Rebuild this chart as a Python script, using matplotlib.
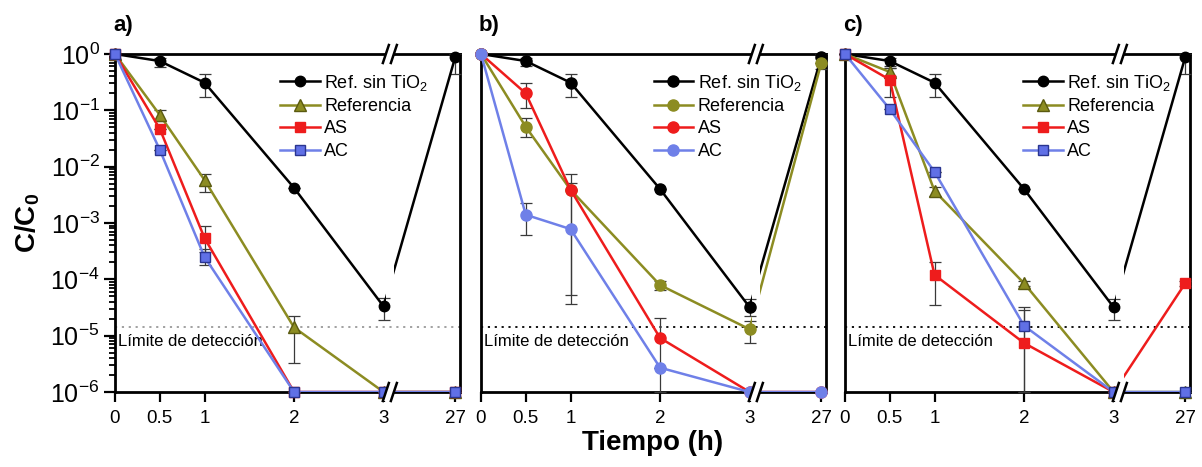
import numpy as np
import matplotlib
matplotlib.use("Agg")
import matplotlib.pyplot as plt
from matplotlib.ticker import LogLocator, NullFormatter, LogFormatterSciNotation, NullLocator
from matplotlib.patches import Polygon
from matplotlib.path import Path
import matplotlib.transforms as mtransforms

plt.rcParams['font.family'] = ['Liberation Sans', 'DejaVu Sans']
plt.rcParams['mathtext.fontset'] = 'custom'
plt.rcParams['mathtext.rm'] = 'Liberation Sans'
plt.rcParams['mathtext.it'] = 'Liberation Sans:italic'
plt.rcParams['mathtext.bf'] = 'Liberation Sans:bold'

# ---------------- data ----------------
t = [0, 0.5, 1, 2, 3, 27]
tick_labels = ["0", "0.5", "1", "2", "3", "27"]
series_names = ["Ref. sin TiO$_2$", "Referencia", "AS", "AC"]
detection_limit = 1.4e-5
panel_tags = ["a)", "b)", "c)"]

nan = np.nan
# panel a
a_ref_sin = [1, 0.75, 0.31, 4.2e-3, 3.3e-5, 0.88]
a_ref = [1, 0.083, 5.8e-3, 1.4e-5, 1e-6, 1e-6]
a_as = [1, 0.047, 5.4e-4, 1e-6, 1e-6, 1e-6]
a_ac = [1, 0.020, 2.5e-4, 1e-6, 1e-6, 1e-6]
a_ref_sin_lo = [nan, 0.59, 0.17, nan, 1.9e-5, 0.44]
a_ref_sin_hi = [nan, 0.85, 0.44, nan, 4.7e-5, 1.0]
a_ref_lo = [nan, 0.065, 3.5e-3, 3.3e-6, nan, nan]
a_ref_hi = [nan, 0.10, 7.4e-3, 2.2e-5, nan, nan]
a_as_lo = [nan, nan, 3.0e-4, nan, nan, nan]
a_as_hi = [nan, nan, 8.8e-4, nan, nan, nan]
a_ac_lo = [nan, nan, 1.8e-4, nan, nan, nan]
a_ac_hi = [nan, nan, 3.4e-4, nan, nan, nan]

# panel b
b_ref_sin = [1, 0.75, 0.31, 4.0e-3, 3.2e-5, 0.88]
b_ref = [1, 0.051, 3.9e-3, 7.9e-5, 1.3e-5, 0.69]
b_as = [1, 0.20, 3.9e-3, 9.1e-6, 1e-6, 1e-6]
b_ac = [1, 1.4e-3, 7.8e-4, 2.7e-6, 1e-6, 1e-6]
b_ref_sin_lo = [nan, 0.62, 0.17, nan, 2.2e-5, 0.55]
b_ref_sin_hi = [nan, 0.85, 0.44, nan, 4.5e-5, 1.0]
b_ref_lo = [nan, 0.034, nan, 6.5e-5, 7.5e-6, nan]
b_ref_hi = [nan, 0.073, nan, 9.5e-5, 1.8e-5, nan]
b_as_lo = [nan, 0.11, 5.3e-5, 1e-6, nan, nan]
b_as_hi = [nan, 0.30, 7.4e-3, 2.1e-5, nan, nan]
b_ac_lo = [nan, 6.0e-4, 3.7e-5, nan, nan, nan]
b_ac_hi = [nan, 2.3e-3, 5.2e-3, nan, nan, nan]

# panel c
c_ref_sin = [1, 0.75, 0.31, 4.0e-3, 3.2e-5, 0.88]
c_ref = [1, 0.48, 3.7e-3, 8.5e-5, 1e-6, 1e-6]
c_as = [1, 0.35, 1.2e-4, 7.4e-6, 1e-6, 8.5e-5]
c_ac = [1, 0.105, 8.1e-3, 1.5e-5, 1e-6, 1e-6]
c_ref_sin_lo = [nan, 0.62, 0.17, nan, 1.9e-5, 0.45]
c_ref_sin_hi = [nan, 0.85, 0.44, nan, 4.5e-5, 1.0]
c_ref_lo = [nan, 0.40, 3.0e-3, 7.5e-5, nan, nan]
c_ref_hi = [nan, 0.56, 4.4e-3, 9.5e-5, nan, nan]
c_as_lo = [nan, 0.17, 3.5e-5, 1e-6, nan, 7.5e-5]
c_as_hi = [nan, 0.56, 2.0e-4, 3.2e-5, nan, 9.5e-5]
c_ac_lo = [nan, nan, nan, 1e-6, nan, nan]
c_ac_hi = [nan, nan, nan, 2.8e-5, nan, nan]

panels = [
    [(a_ref_sin, a_ref_sin_lo, a_ref_sin_hi), (a_ref, a_ref_lo, a_ref_hi),
     (a_as, a_as_lo, a_as_hi), (a_ac, a_ac_lo, a_ac_hi)],
    [(b_ref_sin, b_ref_sin_lo, b_ref_sin_hi), (b_ref, b_ref_lo, b_ref_hi),
     (b_as, b_as_lo, b_as_hi), (b_ac, b_ac_lo, b_ac_hi)],
    [(c_ref_sin, c_ref_sin_lo, c_ref_sin_hi), (c_ref, c_ref_lo, c_ref_hi),
     (c_as, c_as_lo, c_as_hi), (c_ac, c_ac_lo, c_ac_hi)],
]

# ---------------- styles ----------------
colors = ["#000000", "#8c8c22", "#ee1c1c", "#6f80e8"]
markers_sq = ["o", "^", "s", "s"]
markers_ci = ["o", "o", "o", "o"]
mfc = ["#000000", "#8c8c22", "#ee1c1c", "#6070e6"]
mec_sq = ["#000000", "#5a5a10", "#ee1c1c", "#2a3590"]
msizes_sq = [7.5, 8, 7, 7]
msizes_ci = [8, 8, 8, 8]

# broken x axis via function scale
K = 0.8 / 24.0
def fwd(x):
    x = np.asarray(x, dtype=float)
    return np.where(x <= 3, x, 3 + (x - 3) * K)
def inv(x):
    x = np.asarray(x, dtype=float)
    return np.where(x <= 3, x, 3 + (x - 3) / K)

W, H = 1202, 467
fig = plt.figure(figsize=(W / 100, H / 100), dpi=100)
lefts = [115, 481, 845]
ax_w = 345
top_px, bot_px = 54, 392
ax_h = bot_px - top_px
leg_x = [0.478, 0.50, 0.516]
XMAX = 28.6
break_t = 5.1

for i, (lp, pdata) in enumerate(zip(lefts, panels)):
    ax = fig.add_axes([lp / W, 1 - bot_px / H, ax_w / W, ax_h / H])
    ax.set_xscale('function', functions=(fwd, inv))
    ax.set_yscale('log')
    ax.set_xlim(0, XMAX)
    ax.set_ylim(1e-6, 1)

    xb = float(fwd(break_t) / fwd(XMAX))
    gap = 4.0 / ax_w
    # clip path for lines: everything except a narrow band at the axis break
    clip = Path.make_compound_path(
        Path([(-0.1, -0.1), (xb - gap, -0.1), (xb - gap, 1.1), (-0.1, 1.1), (-0.1, -0.1)],
             [Path.MOVETO, Path.LINETO, Path.LINETO, Path.LINETO, Path.CLOSEPOLY]),
        Path([(xb + gap, -0.1), (1.1, -0.1), (1.1, 1.1), (xb + gap, 1.1), (xb + gap, -0.1)],
             [Path.MOVETO, Path.LINETO, Path.LINETO, Path.LINETO, Path.CLOSEPOLY]))

    # detection limit
    dl_color = "#9a9a9a" if i == 0 else "#000000"
    ax.axhline(detection_limit, color=dl_color, ls=(0, (1.2, 2.6)), lw=1.3, zorder=1)
    trans = mtransforms.blended_transform_factory(ax.transAxes, ax.transData)
    ax.text(0.008, 7.8e-6, "Límite de detección", transform=trans, fontsize=12,
            va='center', ha='left', zorder=2)

    markers = markers_ci if i == 1 else markers_sq
    handles = []
    for j, (vals, lo, hi) in enumerate(pdata):
        y = np.array(vals, dtype=float)
        lo = np.array(lo, dtype=float)
        hi = np.array(hi, dtype=float)
        yerr = np.vstack([np.nan_to_num(y - lo), np.nan_to_num(hi - y)])
        ax.errorbar(t, y, yerr=yerr, fmt='none', ecolor="#3a3a3a", elinewidth=0.9,
                    capsize=4, capthick=0.9, zorder=3, clip_on=False)
        if i == 1:
            fc, ec, ms = colors[j], colors[j], msizes_ci[j]
        else:
            fc, ec, ms = mfc[j], mec_sq[j], msizes_sq[j]
        ln, = ax.plot(t, y, color=colors[j], lw=1.8, zorder=4 + j * 0.1)
        ln.set_clip_path(clip, ax.transAxes)
        ax.plot(t, y, ls='none', marker=markers[j], ms=ms, mfc=fc, mec=ec, mew=1.0,
                zorder=4.05 + j * 0.1, clip_on=False)
        h, = ax.plot([], [], color=colors[j], lw=1.8, marker=markers[j], ms=ms,
                     mfc=fc, mec=ec, mew=1.0, label=series_names[j])
        handles.append(h)

    ax.legend(handles=handles, loc='upper left', bbox_to_anchor=(leg_x[i], 0.945),
              frameon=False, fontsize=13, handlelength=2.2, handletextpad=0.25,
              labelspacing=0.3, borderpad=0, borderaxespad=0)

    ax.set_xticks(t)
    ax.set_xticklabels(tick_labels)
    ax.xaxis.set_minor_locator(NullLocator())
    ax.tick_params(axis='x', which='major', direction='out', length=7, width=1.6,
                   labelsize=13.5, pad=6)
    if i == 0:
        ax.yaxis.set_major_locator(LogLocator(base=10, numticks=10))
        ax.yaxis.set_minor_locator(LogLocator(base=10, subs=np.arange(2, 10), numticks=10))
        ax.yaxis.set_minor_formatter(NullFormatter())
        ax.yaxis.set_major_formatter(LogFormatterSciNotation())
        ax.tick_params(axis='y', which='major', direction='out', length=8, width=1.6,
                       labelsize=18, pad=3)
        ax.tick_params(axis='y', which='minor', direction='out', length=4.5, width=1.3)
    else:
        ax.tick_params(axis='y', which='both', left=False, labelleft=False)
    for s in ax.spines.values():
        s.set_linewidth(2.0)

    # break marks on top and bottom spines (axes coordinates)
    dx, dy = 3.0 / ax_w, 9.0 / ax_h
    for yb in (0.0, 1.0):
        poly = Polygon([(xb - gap - dx, yb - dy), (xb + gap - dx, yb - dy),
                        (xb + gap + dx, yb + dy), (xb - gap + dx, yb + dy)],
                       closed=True, transform=ax.transAxes, fc='white', ec='none',
                       zorder=9, clip_on=False)
        ax.add_patch(poly)
        for off in (-gap, gap):
            ax.plot([xb + off - dx, xb + off + dx], [yb - dy, yb + dy],
                    transform=ax.transAxes, color='black', lw=1.8, zorder=10,
                    clip_on=False)

    fig.text((lp - 2) / W, 1 - 26 / H, panel_tags[i], fontsize=16, fontweight='bold',
             ha='left', va='center')

fig.text(28 / W, 1 - 223 / H, r"$\mathbf{C/C_0}$", rotation=90, fontsize=20,
         ha='center', va='center')
fig.text(653 / W, 1 - 443 / H, "Tiempo (h)", fontsize=20, fontweight='bold',
         ha='center', va='center')

fig.savefig("out.png", dpi=100)
